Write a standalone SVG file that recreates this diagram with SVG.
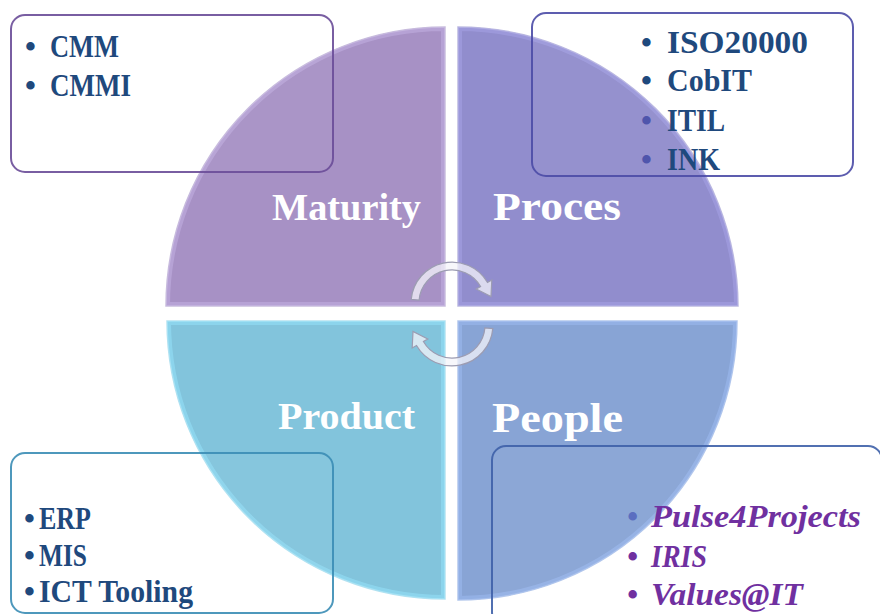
<svg xmlns="http://www.w3.org/2000/svg" width="880" height="614" viewBox="0 0 880 614">
<style>
.lbl{font-family:"Liberation Serif","Times New Roman",serif;font-weight:bold;fill:#FFFFFF}
.bt{font-family:"Liberation Serif","Times New Roman",serif;font-weight:bold;font-size:31px;fill:#1F497D}
.bi{font-family:"Liberation Serif","Times New Roman",serif;font-weight:bold;font-style:italic;font-size:31px;fill:#7030A0}
.box{stroke-width:2;fill:#FBF8FD;fill-opacity:0.04;stroke-opacity:0.9}
.arrow{fill:#F4F4FA;fill-opacity:0.75;stroke:#9C9CB2;stroke-width:1.2}
.edge{fill:none;stroke-width:8;stroke-opacity:0.55}
</style>
<defs>
<path id="pM" d="M445,306 L166,306 A279,279 0 0 1 445,27 Z"/>
<path id="pP" d="M458,306 L458,27 A280,280 0 0 1 738,306 Z"/>
<path id="pD" d="M445,321 L445,599 A278,278 0 0 1 167,321 Z"/>
<path id="pE" d="M458,321 L737,321 A279,279 0 0 1 458,600 Z"/>
<clipPath id="cM"><use href="#pM"/></clipPath>
<clipPath id="cP"><use href="#pP"/></clipPath>
<clipPath id="cD"><use href="#pD"/></clipPath>
<clipPath id="cE"><use href="#pE"/></clipPath>
</defs>

<g id="maturity">
<use href="#pM" fill="#A38DC3" fill-opacity="0.96" stroke="#C9BEDD" stroke-width="1.5"/>
<use href="#pM" class="edge" stroke="#C2B0E2" clip-path="url(#cM)"/>
<text class="lbl" x="272" y="220" font-size="37" textLength="149" lengthAdjust="spacingAndGlyphs">Maturity</text>
</g>
<g id="proces">
<use href="#pP" fill="#8C88CB" fill-opacity="0.96" stroke="#BDBBE0" stroke-width="1.5"/>
<use href="#pP" class="edge" stroke="#A6A3E6" clip-path="url(#cP)"/>
<text class="lbl" x="493" y="220" font-size="41" textLength="128" lengthAdjust="spacingAndGlyphs">Proces</text>
</g>
<g id="product">
<use href="#pD" fill="#7DC2DB" fill-opacity="0.96" stroke="#B6E2F0" stroke-width="1.5"/>
<use href="#pD" class="edge" stroke="#96E2FA" clip-path="url(#cD)"/>
<text class="lbl" x="278" y="429" font-size="37" textLength="137" lengthAdjust="spacingAndGlyphs">Product</text>
</g>
<g id="people">
<use href="#pE" fill="#83A0D3" fill-opacity="0.96" stroke="#B4C8EC" stroke-width="1.5"/>
<use href="#pE" class="edge" stroke="#9DBAF0" clip-path="url(#cE)"/>
<text class="lbl" x="492" y="432" font-size="43" textLength="131" lengthAdjust="spacingAndGlyphs">People</text>
</g>

<g id="box-maturity">
<rect class="box" x="11" y="15" width="322" height="157" rx="14" stroke="#6A4C98"/>
<text class="bt"><tspan x="25" y="57">•</tspan><tspan x="50" y="57" textLength="69" lengthAdjust="spacingAndGlyphs">CMM</tspan></text>
<text class="bt"><tspan x="25" y="96">•</tspan><tspan x="50" y="96" textLength="81" lengthAdjust="spacingAndGlyphs">CMMI</tspan></text>
</g>
<g id="box-proces">
<rect class="box" x="532" y="13" width="321" height="163" rx="14" stroke="#4B4BA6"/>
<text class="bt"><tspan x="641" y="53">•</tspan><tspan x="667" y="53" textLength="141" lengthAdjust="spacingAndGlyphs">ISO20000</tspan></text>
<text class="bt"><tspan x="641" y="91">•</tspan><tspan x="667" y="91" textLength="85" lengthAdjust="spacingAndGlyphs">CobIT</tspan></text>
<text class="bt"><tspan x="641" y="131" fill="#4F55AC">•</tspan><tspan x="667" y="131" textLength="58" lengthAdjust="spacingAndGlyphs">ITIL</tspan></text>
<text class="bt"><tspan x="641" y="170" fill="#4F55AC">•</tspan><tspan x="667" y="170" textLength="53" lengthAdjust="spacingAndGlyphs">INK</tspan></text>
</g>
<g id="box-product">
<rect class="box" x="11" y="453" width="322" height="160" rx="14" stroke="#3B8DB5"/>
<text class="bt"><tspan x="24" y="529">•</tspan><tspan x="39" y="529" textLength="52" lengthAdjust="spacingAndGlyphs">ERP</tspan></text>
<text class="bt"><tspan x="24" y="566">•</tspan><tspan x="39" y="566" textLength="48" lengthAdjust="spacingAndGlyphs">MIS</tspan></text>
<text class="bt"><tspan x="24" y="602">•</tspan><tspan x="39" y="602" textLength="154" lengthAdjust="spacingAndGlyphs">ICT Tooling</tspan></text>
</g>
<g id="box-people">
<rect class="box" x="492" y="446" width="390" height="180" rx="14" stroke="#3E60A8"/>
<text class="bi"><tspan x="627" y="527" fill="#5B6EC0">•</tspan><tspan x="651" y="527" textLength="210" lengthAdjust="spacingAndGlyphs">Pulse4Projects</tspan></text>
<text class="bi"><tspan x="627" y="567">•</tspan><tspan x="651" y="567" textLength="56" lengthAdjust="spacingAndGlyphs">IRIS</tspan></text>
<text class="bi"><tspan x="627" y="605">•</tspan><tspan x="651" y="605" textLength="152" lengthAdjust="spacingAndGlyphs">Values@IT</tspan></text>
</g>

<g id="connectors">
<path class="arrow" d="M411.2,299.4 A41,41 0 0 1 487.5,282.5 L491.8,280 L491,296.6 L476.2,289 L480.6,286.5 A33,33 0 0 0 419.1,300.1 Z"/>
<path class="arrow" transform="rotate(180 452 314)" d="M411.2,299.4 A41,41 0 0 1 487.5,282.5 L491.8,280 L491,296.6 L476.2,289 L480.6,286.5 A33,33 0 0 0 419.1,300.1 Z"/>
</g>
</svg>
